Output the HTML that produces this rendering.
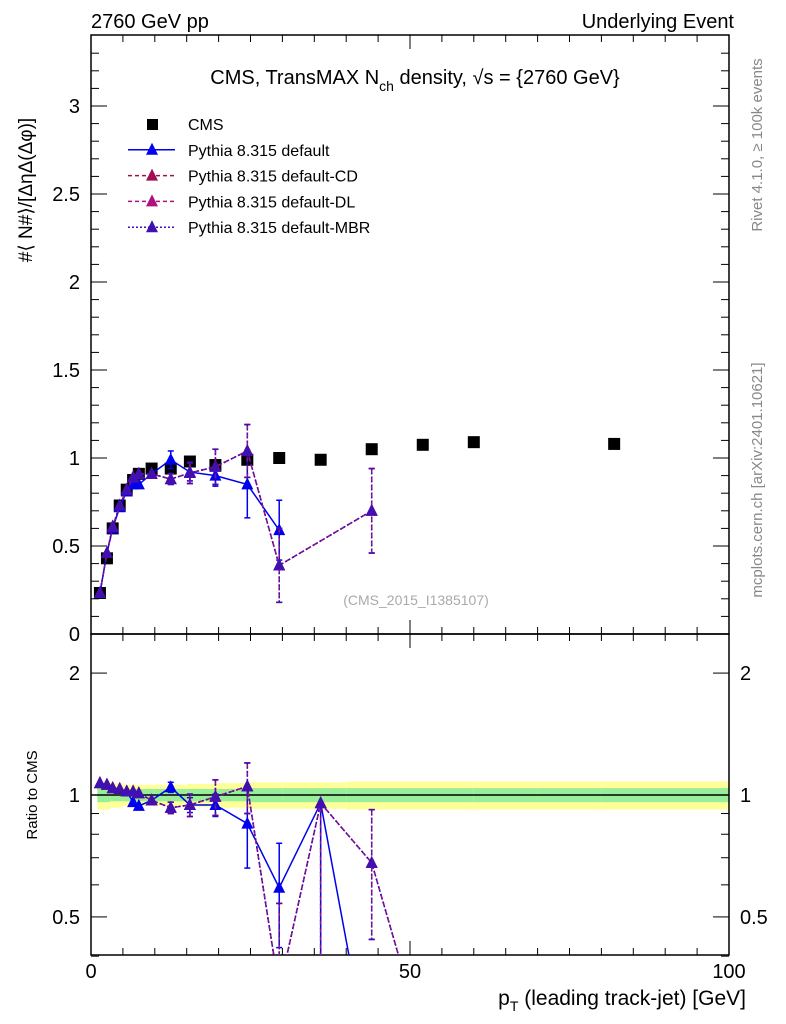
<!DOCTYPE html>
<html><head><meta charset="utf-8"><style>
html,body{margin:0;background:#fff;overflow:hidden;width:786px;height:1024px;}
svg{display:block;font-family:"Liberation Sans",sans-serif;}
</style></head><body>
<svg id="chart" width="786" height="1024" viewBox="0 0 786 1024" xmlns="http://www.w3.org/2000/svg">
<text x="91" y="28" font-size="20">2760 GeV pp</text>
<text x="734" y="28" font-size="20" text-anchor="end">Underlying Event</text>
<text x="415" y="84" font-size="20" text-anchor="middle">CMS, TransMAX N<tspan font-size="14" dy="7">ch</tspan><tspan dy="-7"> density, √s = {2760 GeV}</tspan></text>
<text transform="translate(762,145) rotate(-90)" font-size="15" fill="#888" text-anchor="middle">Rivet 4.1.0, ≥ 100k events</text>
<text transform="translate(762,480) rotate(-90)" font-size="15" fill="#888" text-anchor="middle">mcplots.cern.ch [arXiv:2401.10621]</text>
<text x="416" y="605" font-size="14" fill="#aaa" text-anchor="middle">(CMS_2015_I1385107)</text>
<text transform="translate(32,190) rotate(-90)" font-size="19" text-anchor="middle">#⟨ N#⟩/[ΔηΔ(Δφ)]</text>
<text transform="translate(37,795) rotate(-90)" font-size="15" text-anchor="middle">Ratio to CMS</text>
<text x="746" y="1005" font-size="21" text-anchor="end">p<tspan font-size="14" dy="6">T</tspan><tspan dy="-6"> (leading track-jet) [GeV]</tspan></text>
<g id="bands"></g>
<g id="axes"></g>
<g id="marks"></g>
<g id="legend"></g>
</svg>
<script>
const cmsX=[1.4,2.5,3.4,4.5,5.6,6.6,7.5,9.5,12.5,15.5,19.5,24.5,29.5,36,44,52,60,82];
const cmsY=[0.233,0.43,0.60,0.73,0.82,0.875,0.91,0.94,0.94,0.98,0.96,0.99,1.00,0.99,1.05,1.075,1.09,1.08];
const defX=[1.4,2.5,3.4,4.5,5.6,6.6,7.5,9.5,12.5,15.5,19.5,24.5,29.5];
const defY=[0.233,0.46,0.60,0.72,0.81,0.85,0.85,0.91,0.99,0.92,0.90,0.85,0.59];
const defE=[0.01,0.01,0.01,0.01,0.01,0.02,0.02,0.02,0.05,0.05,0.06,0.19,0.17];
const altX=[1.4,2.5,3.4,4.5,5.6,6.6,7.5,9.5,12.5,15.5,19.5,24.5,29.5,44];
const altY=[0.233,0.46,0.61,0.73,0.82,0.89,0.91,0.91,0.88,0.915,0.95,1.04,0.39,0.70];
const altE=[0.01,0.01,0.01,0.01,0.01,0.02,0.02,0.02,0.03,0.06,0.1,0.15,0.21,0.24];
const rDefX=[1.4,2.5,3.4,4.5,5.6,6.6,7.5,9.5,12.5,15.5,19.5,24.5,29.5,36,44];
const rDefY=[1.07,1.06,1.04,1.035,1.02,0.96,0.94,0.97,1.045,0.945,0.945,0.85,0.59,0.955,0.2];
const rDefE=[0.01,0.01,0.01,0.01,0.01,0.02,0.02,0.02,0.03,0.04,0.06,0.19,0.17,0.8,0];
const rAltX=[1.4,2.5,3.4,4.5,5.6,6.6,7.5,9.5,12.5,15.5,19.5,24.5,29.5,36,44,52];
const rAltY=[1.07,1.06,1.04,1.035,1.02,1.02,1.01,0.97,0.93,0.945,0.99,1.05,0.33,0.955,0.68,0.25];
const rAltE=[0.01,0.01,0.01,0.01,0.01,0.02,0.02,0.02,0.03,0.06,0.1,0.15,0.21,0.8,0.24,0];
const bandX=[1,3,5,10,15,20,25,30,40,50,60,70,80,100];
const bandYel=[0.08,0.07,0.06,0.06,0.065,0.07,0.075,0.075,0.08,0.08,0.08,0.08,0.08,0.08];
const bandGrn=[0.04,0.035,0.035,0.035,0.035,0.035,0.04,0.04,0.04,0.04,0.04,0.04,0.04,0.04];

const NS='http://www.w3.org/2000/svg';
const L=91,R=729,T=35,B1=634,B2=955;
const sx=v=>L+(v/100)*(R-L);
const sy=v=>B1-v*176;
const ry=v=>795-405*Math.log10(Math.max(v,0.2));
function mk(p,tag,at){const e=document.createElementNS(NS,tag);for(const k in at)e.setAttribute(k,at[k]);p.appendChild(e);return e;}
const axes=document.getElementById('axes'),marks=document.getElementById('marks'),bands=document.getElementById('bands'),leg=document.getElementById('legend');

for(let i=0;i<bandX.length-1;i++){
  const x0=Math.max(sx(bandX[i]),97),x1=sx(bandX[i+1]);
  const y=mk(bands,'rect',{x:x0,y:ry(1+bandYel[i]),width:x1-x0,height:ry(1-bandYel[i])-ry(1+bandYel[i]),fill:'#ffff99'});
  
  
  const g=mk(bands,'rect',{x:x0,y:ry(1+bandGrn[i]),width:x1-x0,height:ry(1-bandGrn[i])-ry(1+bandGrn[i]),fill:'#99ee99'});
  
  
}
mk(axes,'rect',{x:L,y:T,width:R-L,height:B1-T,fill:'none',stroke:'#000','stroke-width':1.5});
mk(axes,'rect',{x:L,y:B1,width:R-L,height:B2-B1,fill:'none',stroke:'#000','stroke-width':1.5});
mk(axes,'line',{x1:L,x2:R,y1:ry(1),y2:ry(1),stroke:'#000','stroke-width':1.5});
for(let v=0;v<=100;v+=5){
  const big=v%50===0, len=big?14:7;
  [[T,1],[B1,-1],[B1,1],[B2,-1]].forEach(([y,d])=>mk(axes,'line',{x1:sx(v),x2:sx(v),y1:y,y2:y+d*len,stroke:'#000'}));
  if(big){const t=mk(axes,'text',{x:sx(v),y:978,'font-size':20,'text-anchor':'middle'});t.textContent=v;
    
    }
}
for(let i=0;i<=33;i++){
  const v=i/10,y=sy(v),big=i%5===0,len=big?16:8;
  mk(axes,'line',{x1:L,x2:L+len,y1:y,y2:y,stroke:'#000'});
  mk(axes,'line',{x1:R,x2:R-len,y1:y,y2:y,stroke:'#000'});
  if(big){const t=mk(axes,'text',{x:80,y:y+7,'font-size':20,'text-anchor':'end'});t.textContent=String(v);
    
    }
}
[0.4,0.5,0.6,0.7,0.8,0.9,1,2].forEach(v=>{
  const y=ry(v),big=(v===0.5||v===1||v===2),len=big?16:8;
  mk(axes,'line',{x1:L,x2:L+len,y1:y,y2:y,stroke:'#000'});
  mk(axes,'line',{x1:R,x2:R-len,y1:y,y2:y,stroke:'#000'});
  if(big){
    const t=mk(axes,'text',{x:80,y:y+7,'font-size':20,'text-anchor':'end'});t.textContent=String(v);
    
    
    const t2=mk(axes,'text',{x:740,y:y+7,'font-size':20});t2.textContent=String(v);
    
    
  }
});
const defs=mk(document.getElementById('chart'),'defs',{});
const cp=mk(defs,'clipPath',{id:'rc'});mk(cp,'rect',{x:L,y:B1,width:R-L,height:B2-B1});
const tri=(g,x,y,c)=>mk(g,'polygon',{points:`${x},${y-7} ${x-6},${y+5} ${x+6},${y+5}`,fill:c});
function series(xs,ys,es,fy,color,dash,name,clip,capUp){
  const g=mk(marks,'g',clip?{'clip-path':'url(#rc)'}:{});
  
  
  mk(g,'polyline',{points:xs.map((x,i)=>sx(x)+','+fy(ys[i])).join(' '),fill:'none',stroke:color,'stroke-width':1.5,'stroke-dasharray':dash});
  xs.forEach((x,i)=>{
    if(es[i]>0.02){
      const up=(capUp&&es[i]>0.5)?0.02:es[i];
      const a=fy(ys[i]+up),b=fy(Math.max(ys[i]-es[i],0.01));
      mk(g,'line',{x1:sx(x),x2:sx(x),y1:a,y2:b,stroke:color,'stroke-width':1.5,'stroke-dasharray':dash});
      if(up===es[i])mk(g,'line',{x1:sx(x)-3,x2:sx(x)+3,y1:a,y2:a,stroke:color,'stroke-width':1.5});
      mk(g,'line',{x1:sx(x)-3,x2:sx(x)+3,y1:b,y2:b,stroke:color,'stroke-width':1.5});}
    tri(g,sx(x),fy(ys[i]),color);
  });
}
const cg=mk(marks,'g',{});


cmsX.forEach((x,i)=>mk(cg,'rect',{x:sx(x)-6,y:sy(cmsY[i])-6,width:12,height:12,fill:'#000'}));
series(defX,defY,defE,sy,'#0000ee','none','pythia-default',false,false);
series(altX,altY,altE,sy,'#a01050','5,3','pythia-default-cd',false,false);
series(altX,altY,altE,sy,'#b01080','5,3','pythia-default-dl',false,false);
series(altX,altY,altE,sy,'#4010b0','2,2','pythia-default-mbr',false,false);
series(rDefX,rDefY,rDefE,ry,'#0000ee','none','ratio-pythia-default',true,true);
series(rAltX,rAltY,rAltE,ry,'#a01050','5,3','ratio-pythia-default-cd',true,true);
series(rAltX,rAltY,rAltE,ry,'#b01080','5,3','ratio-pythia-default-dl',true,true);
series(rAltX,rAltY,rAltE,ry,'#4010b0','2,2','ratio-pythia-default-mbr',true,true);
const labels=['CMS','Pythia 8.315 default','Pythia 8.315 default-CD','Pythia 8.315 default-DL','Pythia 8.315 default-MBR'];
const lc=['#000','#0000ee','#a01050','#b01080','#4010b0'];
const ld=['none','none','4,3','4,3','2,2'];
labels.forEach((s,i)=>{
  const y=124+i*25.8;
  const g=mk(leg,'g',{});
  
  
  if(i===0)mk(g,'rect',{x:147,y:y-5,width:11,height:11,fill:'#000'});
  else{mk(g,'line',{x1:128,x2:175,y1:y,y2:y,stroke:lc[i],'stroke-width':1.5,'stroke-dasharray':ld[i]});tri(g,152,y,lc[i]);}
  const t=mk(g,'text',{x:188,y:y+6,'font-size':16});t.textContent=s;
});
</script>
</body></html>
